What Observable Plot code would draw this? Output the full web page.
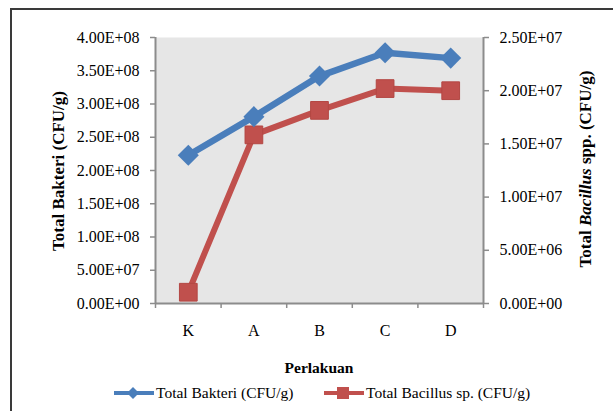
<!DOCTYPE html>
<html>
<head>
<meta charset="utf-8">
<script src="https://cdn.jsdelivr.net/npm/d3@7"></script>
<script src="https://cdn.jsdelivr.net/npm/@observablehq/plot@0.6"></script>
<style>
  html, body { margin: 0; padding: 0; background: #fff; overflow: hidden; }
  #wrap { position: relative; width: 613px; height: 411px; font-family: "Liberation Serif", "Times New Roman", serif; color: #000; }
  #border { position: absolute; left: 10px; top: 8px; width: 700px; height: 500px; border: 2px solid #3a3a3a; box-sizing: border-box; }
  .abs { position: absolute; white-space: nowrap; }
  .ytitle { font-weight: bold; font-size: 17px; transform: translate(-50%, -50%) rotate(-90deg); }
  #xtitle { font-weight: bold; font-size: 15.5px; transform: translate(-50%, -50%); }
  .leg { font-size: 15.5px; transform: translateY(-50%); }
  #chart svg { position: absolute; left: 0; top: 0; }
</style>
</head>
<body>
<div id="wrap">
  <div id="border"></div>
  <div id="chart"></div>
  <div class="abs ytitle" style="left:59px; top:171px;">Total Bakteri (CFU/g)</div>
  <div class="abs ytitle" style="left:586px; top:169px;">Total <i>Bacillus</i> spp. (CFU/g)</div>
  <div class="abs" id="xtitle" style="left:319px; top:368px;">Perlakuan</div>
  <div class="abs leg" style="left:114px; top:393px; display:flex; align-items:center;">
    <svg width="40" height="16"><line x1="0" y1="8" x2="40" y2="8" stroke="#4a7ebb" stroke-width="4"/><path d="M19,2 L25,8 L19,14 L13,8 Z" fill="#4a7ebb"/></svg><span style="margin-left:2px">Total Bakteri (CFU/g)</span>
  </div>
  <div class="abs leg" style="left:324px; top:393px; display:flex; align-items:center;">
    <svg width="40" height="16"><line x1="0" y1="8" x2="40" y2="8" stroke="#c0504d" stroke-width="4"/><rect x="13" y="2" width="12" height="12" fill="#c0504d"/></svg><span style="margin-left:2px">Total Bacillus sp. (CFU/g)</span>
  </div>
</div>
<script>
const categories = ["K", "A", "B", "C", "D"];
const totalBakteri = [2.23e8, 2.81e8, 3.42e8, 3.77e8, 3.69e8];
const totalBacillus = [1.06e6, 1.585e7, 1.815e7, 2.02e7, 2.0e7];
const leftTicks = [0, 5e7, 1e8, 1.5e8, 2e8, 2.5e8, 3e8, 3.5e8, 4e8];
const leftTickLabels = ["0.00E+00", "5.00E+07", "1.00E+08", "1.50E+08", "2.00E+08", "2.50E+08", "3.00E+08", "3.50E+08", "4.00E+08"];
const rightTicks = [0, 5e6, 1e7, 1.5e7, 2e7, 2.5e7];
const rightTickLabels = ["0.00E+00", "5.00E+06", "1.00E+07", "1.50E+07", "2.00E+07", "2.50E+07"];

const leftMax = 4e8, rightMax = 2.5e7;
const k = leftMax / rightMax;

const data = categories.map((c, i) => ({
  cat: c, xi: i + 0.5, bakteri: totalBakteri[i], bacillus: totalBacillus[i] * k
}));
const rightTicksScaled = rightTicks.map(v => v * k);
const blue = "#4a7ebb", red = "#c0504d", axisGray = "#8c8c8c";

const chart = Plot.plot({
  width: 613, height: 411,
  marginLeft: 155, marginRight: 130, marginTop: 37, marginBottom: 108,
  x: { type: "linear", domain: [0, categories.length] },
  y: { domain: [0, leftMax] },
  style: { fontFamily: "'Liberation Serif', 'Times New Roman', serif", fontSize: "16px", color: "#000", background: "transparent", overflow: "visible" },
  marks: [
    Plot.frame({ fill: "#e6e6e6", stroke: null }),
    Plot.axisY({ ticks: leftTicks, tickFormat: d => leftTickLabels[leftTicks.indexOf(d)], tickSize: 5, tickPadding: 11, stroke: axisGray, strokeWidth: 1.5, label: null }),
    Plot.axisY({ anchor: "right", ticks: rightTicksScaled, tickFormat: d => rightTickLabels[rightTicksScaled.indexOf(d)], tickSize: 5, tickPadding: 11, stroke: axisGray, strokeWidth: 1.5, label: null }),
    Plot.axisX({ ticks: d3.range(categories.length + 1), tickFormat: () => "", tickSize: 5, stroke: axisGray, strokeWidth: 1.5, label: null }),
    Plot.axisX({ ticks: categories.map((c, i) => i + 0.5), tickFormat: d => categories[Math.floor(d)], tickSize: 0, tickPadding: 21, label: null }),
    Plot.ruleX([0, categories.length], { stroke: axisGray, strokeWidth: 2 }),
    Plot.ruleY([0], { stroke: axisGray, strokeWidth: 2 }),
    Plot.line(data, { x: "xi", y: "bacillus", stroke: red, strokeWidth: 6 }),
    Plot.dot(data, { x: "xi", y: "bacillus", symbol: "square", r: 10, fill: red, stroke: "#b34743", strokeWidth: 1 }),
    Plot.line(data, { x: "xi", y: "bakteri", stroke: blue, strokeWidth: 6.5 }),
    Plot.dot(data, { x: "xi", y: "bakteri", symbol: "diamond2", r: 9.5, fill: blue })
  ]
});
document.getElementById("chart").appendChild(chart);
</script>
</body>
</html>
